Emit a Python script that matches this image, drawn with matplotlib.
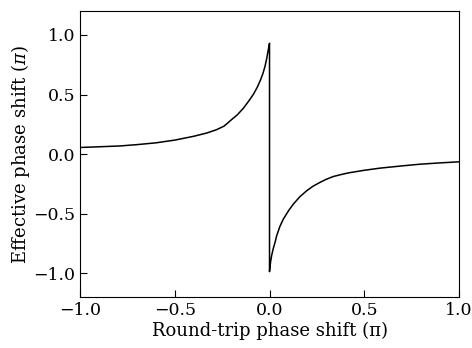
import matplotlib
matplotlib.use("Agg")
import matplotlib.pyplot as plt

# values (units of pi)
round_trip = [-1.0, -0.9, -0.789, -0.7, -0.6, -0.5, -0.4, -0.33, -0.28,
              -0.24, -0.2, -0.17, -0.138, -0.11, -0.085, -0.065, -0.05,
              -0.035, -0.024, -0.015, -0.006, 0.0,
              0.0, 0.002, 0.006, 0.011, 0.02, 0.03, 0.038, 0.055, 0.073,
              0.1, 0.126, 0.16, 0.196, 0.23, 0.266, 0.3, 0.337, 0.38,
              0.416, 0.5, 0.583, 0.7, 0.794, 0.9, 1.0]
effective = [0.056, 0.062, 0.069, 0.080, 0.095, 0.118, 0.150, 0.178, 0.205,
             0.235, 0.290, 0.330, 0.385, 0.445, 0.502, 0.56, 0.613,
             0.675, 0.735, 0.80, 0.88, 0.93,
             -0.985, -0.95, -0.90, -0.851, -0.79, -0.735, -0.683, -0.605, -0.544,
             -0.475, -0.418, -0.357, -0.307, -0.268, -0.237, -0.210, -0.187, -0.170,
             -0.157, -0.135, -0.117, -0.098, -0.084, -0.073, -0.064]

xticks = [-1.0, -0.5, 0.0, 0.5, 1.0]
yticks = [-1.0, -0.5, 0.0, 0.5, 1.0]

plt.rcParams.update({
    'font.family': 'DejaVu Serif',
    'mathtext.fontset': 'dejavuserif',
    'font.size': 13,
    'axes.linewidth': 0.8,
})

fig = plt.figure(figsize=(4.72, 3.48), dpi=100)
ax = fig.add_axes([0.1695, 0.1457, 0.803, 0.8225])

ax.plot(round_trip, effective, color='black', linewidth=1.1)

ax.set_xlim(-1.0, 1.0)
ax.set_ylim(-1.2, 1.2)
ax.set_xticks(xticks)
ax.set_yticks(yticks)
ax.set_xticklabels(["%.1f" % v if v >= 0 else "\u2212%.1f" % -v for v in xticks])
ax.set_yticklabels(["%.1f" % v if v >= 0 else "\u2212%.1f" % -v for v in yticks])
ax.tick_params(direction='in', length=5, width=0.8, top=False, right=False,
               labelsize=12.5)

ax.set_xlabel("Round-trip phase shift (\u03c0)", labelpad=2)
ax.set_ylabel(r"Effective phase shift ($\pi$)", labelpad=1)

fig.savefig("out.png", dpi=100)
